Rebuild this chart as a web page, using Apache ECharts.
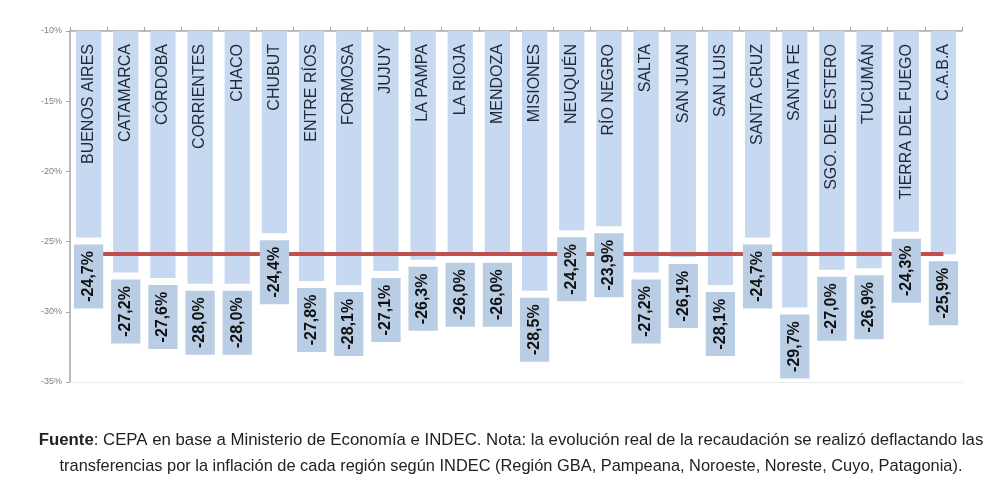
<!DOCTYPE html>
<html>
<head>
<meta charset="utf-8">
<script src="https://cdn.jsdelivr.net/npm/echarts@6/dist/echarts.min.js"></script>
<style>
html,body{margin:0;padding:0;background:#fff;}
#c{width:1000px;height:500px;}
</style>
</head>
<body>
<div id="c"></div>
<script>
var categories = ['BUENOS AIRES','CATAMARCA','CÓRDOBA','CORRIENTES','CHACO','CHUBUT','ENTRE RÍOS','FORMOSA','JUJUY','LA PAMPA','LA RIOJA','MENDOZA','MISIONES','NEUQUÉN','RÍO NEGRO','SALTA','SAN JUAN','SAN LUIS','SANTA CRUZ','SANTA FE','SGO. DEL ESTERO','TUCUMÁN','TIERRA DEL FUEGO','C.A.B.A'];
var values = [-24.7,-27.2,-27.6,-28.0,-28.0,-24.4,-27.8,-28.1,-27.1,-26.3,-26.0,-26.0,-28.5,-24.2,-23.9,-27.2,-26.1,-28.1,-24.7,-29.7,-27.0,-26.9,-24.3,-25.9];
var valueLabels = ['-24,7%','-27,2%','-27,6%','-28,0%','-28,0%','-24,4%','-27,8%','-28,1%','-27,1%','-26,3%','-26,0%','-26,0%','-28,5%','-24,2%','-23,9%','-27,2%','-26,1%','-28,1%','-24,7%','-29,7%','-27,0%','-26,9%','-24,3%','-25,9%'];
var average = -25.9;
var yTicks = [-35,-30,-25,-20,-15,-10];
var footnote1 = 'CEPA en base a Ministerio de Economía e INDEC. Nota: la evolución real de la recaudación se realizó deflactando las';
var footnote2 = 'transferencias por la inflación de cada región según INDEC (Región GBA, Pampeana, Noroeste, Noreste, Cuyo, Patagonia).';

var FONT = '"Liberation Sans", Arial, sans-serif';
var chart = echarts.init(document.getElementById('c'));

var data = values.map(function(v, i){ return [i, v]; });

function renderBar(params, api){
  var i = api.value(0), v = api.value(1);
  var top = api.coord([i, yTicks[yTicks.length-1]]);
  var end = api.coord([i, v]);
  var w = api.size([1,0])[0] * 0.68;
  return {
    type: 'group',
    children: [
      {type:'rect', shape:{x: top[0]-w/2, y: top[1], width: w, height: end[1]-top[1]},
       style:{fill:'#c6d9f0'}},
      {type:'text', x: top[0], y: top[1]+13, rotation: Math.PI/2,
       style:{text: categories[i], x:0, y:0, align:'right', verticalAlign:'middle',
              fill:'#1f2a36', font: '16px ' + FONT}}
    ]
  };
}
function renderLabel(params, api){
  var i = api.value(0), v = api.value(1);
  var end = api.coord([i, v]);
  var w = api.size([1,0])[0] * 0.68 + 4;
  var h = 64, gap = 7;
  var y0 = end[1] + gap;
  return {
    type: 'group',
    children: [
      {type:'rect', shape:{x: end[0]-w/2, y: y0, width: w, height: h},
       style:{fill:'#b9cde5'}},
      {type:'text', x: end[0], y: y0 + h/2, rotation: Math.PI/2,
       style:{text: valueLabels[i], x:0, y:0, align:'center', verticalAlign:'middle',
              fill:'#111', font: 'bold 16px ' + FONT}}
    ]
  };
}

chart.setOption({
  animation: false,
  grid: {left: 70, right: 38, top: 31, bottom: 118},
  xAxis: [
    {type:'category', data: categories, position:'top',
     axisLine:{show:true, lineStyle:{color:'#a6a6a6', width:1.5}},
     axisTick:{show:true, interval:0, length:4, lineStyle:{color:'#a6a6a6'}},
     axisLabel:{show:false, interval:0}, splitLine:{show:false}},
    {type:'category', data: categories, position:'bottom',
     axisLine:{show:true, lineStyle:{color:'#ececec', width:1}},
     axisTick:{show:false}, axisLabel:{show:false}}
  ],
  yAxis: {type:'value', min: yTicks[0], max: yTicks[yTicks.length-1], interval: 5,
    axisLine:{show:true, lineStyle:{color:'#a6a6a6', width:1.5}},
    axisTick:{show:true, length:4, lineStyle:{color:'#a6a6a6'}},
    splitLine:{show:false},
    axisLabel:{formatter:'{value}%', color:'#808080', fontSize:9, fontFamily: FONT, margin:8}},
  series: [
    {type:'custom', name:'Variación real', data: data, renderItem: renderBar, z: 1, clip:false},
    {type:'line', name:'Promedio', data: [], z: 2,
     markLine: {symbol:'none', silent:true, z: 2,
       label:{show:false},
       lineStyle:{color:'#c0504d', width:4, type:'solid'},
       data: [[{coord:[0, average]}, {coord:[categories.length-1, average]}]]}},
    {type:'custom', name:'Etiquetas', data: data, renderItem: renderLabel, z: 10, clip:false}
  ],
  graphic: [
    {type:'text', x: 511, y: 432,
     style:{text: '{b|Fuente}: ' + footnote1, align:'center',
       fill:'#222', font: '16.8px ' + FONT,
       rich:{b:{fontWeight:'bold', fontSize:16.8, fontFamily: FONT, fill:'#222'}}}},
    {type:'text', x: 511, y: 458,
     style:{text: footnote2, align:'center', fill:'#222', font: '16.4px ' + FONT}}
  ]
});
</script>
</body>
</html>
